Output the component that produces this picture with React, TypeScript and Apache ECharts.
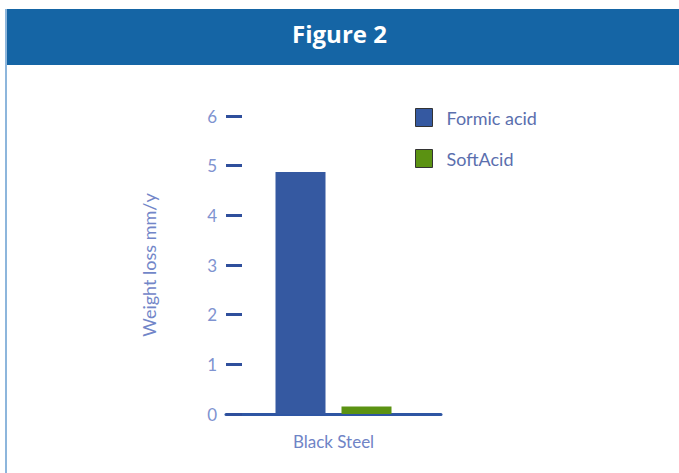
import React, { useEffect, useRef } from "react";
import * as echarts from "echarts";

const categories = ["Black Steel"];
const seriesNames = ["Formic acid", "SoftAcid"];
const formicValues = [4.87];
const softAcidValues = [0.15];
const yTicks = [0, 1, 2, 3, 4, 5, 6];

export default function App() {
  const ref = useRef<HTMLDivElement>(null);
  useEffect(() => {
    if (!ref.current) return;
    const chart = echarts.init(ref.current, undefined, { renderer: "svg" });
    chart.setOption({
      animation: false,
      backgroundColor: "#ffffff",
      textStyle: { fontFamily: "Lato" },
      graphic: [
        { type: "rect", shape: { x: 6, y: 9, width: 673, height: 56 }, style: { fill: "#1565a5" }, silent: true },
        { type: "rect", shape: { x: 5, y: 9, width: 2, height: 464 }, style: { fill: "#8db6dc" }, silent: true },
        {
          type: "text",
          left: "center",
          top: 21,
          style: { text: "Figure 2", fill: "#ffffff", fontSize: 24, fontWeight: "bold", fontFamily: "Open Sans" },
          x: 3,
        },
      ],
      legend: {
        orient: "vertical",
        left: 415,
        top: 108,
        padding: 0,
        itemWidth: 17,
        itemHeight: 18,
        itemGap: 22,
        icon: "rect",
        itemStyle: { borderColor: "#333333", borderWidth: 1 },
        textStyle: { color: "#5b6fae", fontSize: 18, fontFamily: "Lato", padding: [0, 0, 0, 9] },
        data: seriesNames,
      },
      grid: { left: 226, right: 238, top: 116, bottom: 59, containLabel: false },
      xAxis: {
        type: "category",
        data: categories,
        axisLine: { show: true, lineStyle: { color: "#2f56a3", width: 3 } },
        axisTick: { show: false },
        axisLabel: { color: "#6f84c6", fontSize: 17, margin: 19 },
      },
      yAxis: {
        type: "value",
        min: 0,
        max: 6,
        interval: 1,
        name: "Weight loss mm/y",
        nameLocation: "middle",
        nameGap: 68,
        nameTextStyle: { color: "#7286c8", fontSize: 18 },
        axisLine: { show: false },
        splitLine: { show: false },
        axisTick: { show: true, inside: true, length: 16, lineStyle: { color: "#2f4f9c", width: 3 } },
        axisLabel: {
          color: "#7f93d0",
          fontSize: 17,
          margin: 9,
          formatter: (v: number) => (yTicks.includes(v) ? String(v) : ""),
        },
      },
      series: [
        {
          name: seriesNames[0],
          type: "bar",
          data: formicValues,
          barWidth: 50,
          barGap: "32%",
          itemStyle: { color: "#3559a1" },
          z: 1,
        },
        {
          name: seriesNames[1],
          type: "bar",
          data: softAcidValues,
          barWidth: 50,
          itemStyle: { color: "#5b9212" },
          z: 1,
        },
      ],
    });
    return () => chart.dispose();
  }, []);
  return (
    <div
      ref={ref}
      style={{ position: "fixed", left: 0, top: 0, width: 679, height: 473 }}
    />
  );
}
